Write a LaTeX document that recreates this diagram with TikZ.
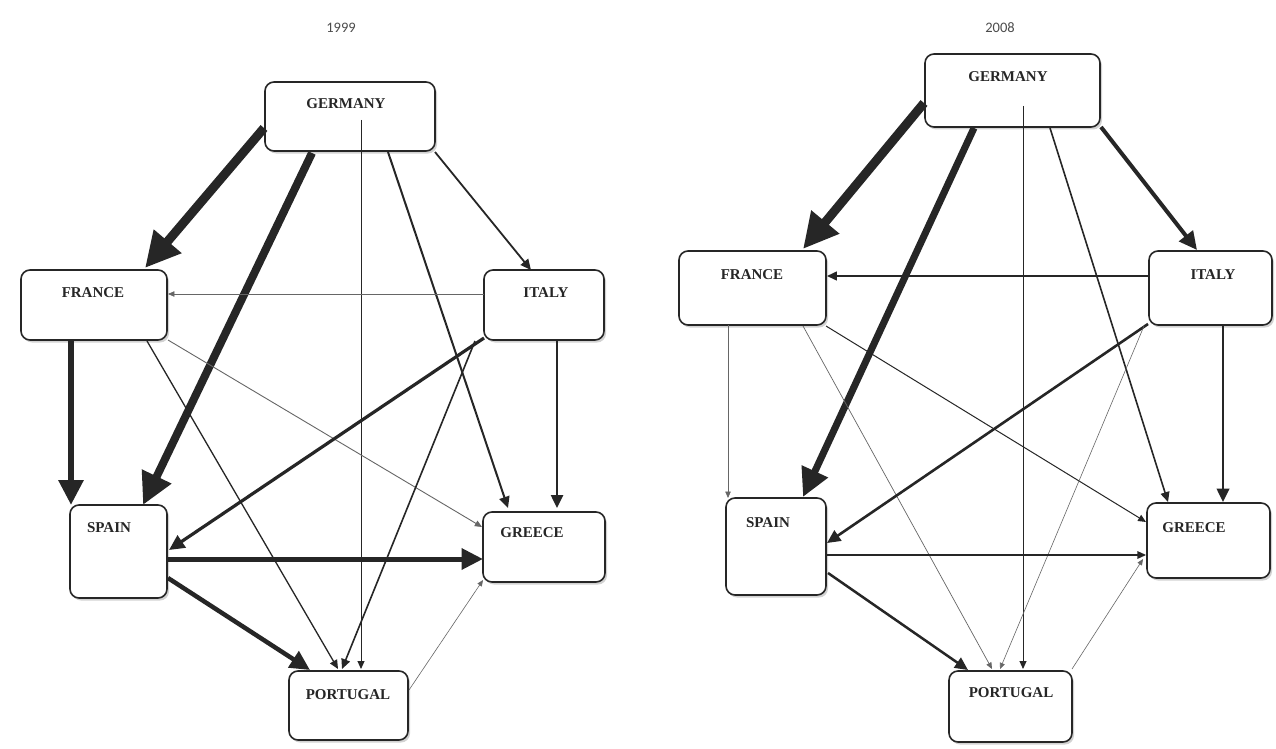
\documentclass[tikz,border=0pt]{standalone}
\usepackage{fontspec}
\setmainfont{Liberation Serif}
\newfontfamily\yearfont{Carlito}
\usetikzlibrary{arrows.meta,shadows,calc}
\begin{document}
\begin{tikzpicture}[x=1pt,y=-1pt,
  box/.style={draw=black!85, line width=1.6pt, rounded corners=9pt, fill=white,
    drop shadow={shadow xshift=2pt, shadow yshift=-2.5pt, opacity=0.35}, inner sep=0pt},
  lbl/.style={font=\fontsize{15}{15}\selectfont\bfseries, text=black!85, inner sep=0pt},
  yr/.style={font=\yearfont\fontsize{14.5}{14.5}\selectfont, text=black!70, inner sep=0pt},
  ar/.style={line width=#1pt, draw=black!85, -{Triangle[length=4.5pt 3.4, width=3.5pt 3.4]}},
  art/.style={line width=#1pt, draw=black!60, -{Triangle[length=4pt 3.5, width=3pt 3.5]}},
]
\useasboundingbox (0,0) rectangle (1276,749);
\fill[white] (0,0) rectangle (1276,749);

% years
\node[yr] (y1) at (341,28) {1999};
\node[yr] (y2) at (1000,28) {2008};

% ---------- 1999 boxes
\node[box, minimum width=170pt, minimum height=69pt] (lG) at (350,116.5) {};
\node[box, minimum width=146pt, minimum height=70pt] (lF) at (94,305) {};
\node[box, minimum width=120pt, minimum height=70pt] (lI) at (544,305) {};
\node[box, minimum width=97pt, minimum height=93pt] (lS) at (118.5,551.5) {};
\node[box, minimum width=122pt, minimum height=70pt] (lGr) at (544,547) {};
\node[box, minimum width=119pt, minimum height=69pt] (lP) at (348.5,705.5) {};

% ---------- 2008 boxes
\node[box, minimum width=175pt, minimum height=73pt] (rG) at (1012.5,90.5) {};
\node[box, minimum width=147pt, minimum height=74pt] (rF) at (752.5,288) {};
\node[box, minimum width=123pt, minimum height=74pt] (rI) at (1210.5,288) {};
\node[box, minimum width=100pt, minimum height=97pt] (rS) at (776,546.5) {};
\node[box, minimum width=123pt, minimum height=75pt] (rGr) at (1208.5,540.5) {};
\node[box, minimum width=123pt, minimum height=71pt] (rP) at (1010.5,706.5) {};

% ---------- 1999 edges
\draw[ar=9]   ($(lG)+(-86,11.5)$) -- ($(lF)+(51,-37)$);
\draw[ar=8]   ($(lG)+(-38,36.5)$) -- ($(lS)+(24.5,-46.5)$);
\draw[ar=1]   ($(lG)+(11,3.5)$) -- ($(lP)+(12.5,-36.5)$);
\draw[ar=2]   ($(lG)+(38,35.5)$) -- ($(lGr)+(-36,-39)$);
\draw[ar=1.8] ($(lG)+(85,35.5)$) -- ($(lI)+(-13,-35)$);
\draw[art=0.7]($(lI)+(-60,-11)$) -- ($(lF)+(74,-11)$);
\draw[ar=6]   ($(lF)+(-23,35)$) -- ($(lS)+(-47.5,-46.5)$);
\draw[ar=1.3] ($(lF)+(53,36)$) -- ($(lP)+(-10.5,-36.5)$);
\draw[art=0.9]($(lF)+(74,35)$) -- ($(lGr)+(-62,-20)$);
\draw[ar=3.2] ($(lI)+(-60,33)$) -- ($(lS)+(50.5,-1.5)$);
\draw[ar=1.6] ($(lI)+(-69,36)$) -- ($(lP)+(-6.5,-36.5)$);
\draw[ar=2.5] ($(lI)+(13,35)$) -- ($(lGr)+(13,-39)$);
\draw[ar=5]   ($(lS)+(48.5,7.5)$) -- ($(lGr)+(-61,12)$);
\draw[ar=4.5] ($(lS)+(49.5,26.5)$) -- ($(lP)+(-38.5,-35.5)$);
\draw[art=0.6]($(lP)+(60.5,-15.5)$) -- ($(lGr)+(-61,33)$);

% ---------- 2008 edges
\draw[ar=9]   ($(rG)+(-88.5,12.5)$) -- ($(rF)+(50.5,-39)$);
\draw[ar=7]   ($(rG)+(-38.5,37.5)$) -- ($(rS)+(27,-49.5)$);
\draw[ar=1]   ($(rG)+(10.5,15.5)$) -- ($(rP)+(12.5,-37.5)$);
\draw[ar=1.6] ($(rG)+(37.5,37.5)$) -- ($(rGr)+(-40.5,-38.5)$);
\draw[ar=4]   ($(rG)+(88.5,36.5)$) -- ($(rI)+(-13.5,-38)$);
\draw[ar=1.6] ($(rI)+(-61.5,-12)$) -- ($(rF)+(74.5,-12)$);
\draw[art=0.7]($(rF)+(-24.5,37)$) -- ($(rS)+(-48,-48.5)$);
\draw[art=0.7]($(rF)+(50.5,38)$) -- ($(rP)+(-18.5,-37.5)$);
\draw[ar=1]   ($(rF)+(73.5,38)$) -- ($(rGr)+(-62.5,-18.5)$);
\draw[ar=2.6] ($(rI)+(-62.5,36)$) -- ($(rS)+(51,-3.5)$);
\draw[art=0.6]($(rI)+(-66.5,38)$) -- ($(rP)+(-10.5,-37.5)$);
\draw[ar=2.6] ($(rI)+(12.5,37)$) -- ($(rGr)+(14.5,-38.5)$);
\draw[ar=1.2] ($(rS)+(50,8.5)$) -- ($(rGr)+(-62.5,14.5)$);
\draw[ar=2.5] ($(rS)+(52,26.5)$) -- ($(rP)+(-42.5,-36.5)$);
\draw[art=0.6]($(rP)+(61.5,-37.5)$) -- ($(rGr)+(-65.5,18.5)$);

% ---------- labels
\node[lbl] (lGt) at (346,104) {GERMANY};
\node[lbl] (lFt) at (93,293) {FRANCE};
\node[lbl] (lIt) at (546,293) {ITALY};
\node[lbl] (lSt) at (109,528) {SPAIN};
\node[lbl] (lGrt) at (532,533) {GREECE};
\node[lbl] (lPt) at (348,695) {PORTUGAL};
\node[lbl] (rGt) at (1008,77) {GERMANY};
\node[lbl] (rFt) at (752,275) {FRANCE};
\node[lbl] (rIt) at (1213,275) {ITALY};
\node[lbl] (rSt) at (768,523) {SPAIN};
\node[lbl] (rGrt) at (1194,528) {GREECE};
\node[lbl] (rPt) at (1011,693) {PORTUGAL};
\end{tikzpicture}
\end{document}
